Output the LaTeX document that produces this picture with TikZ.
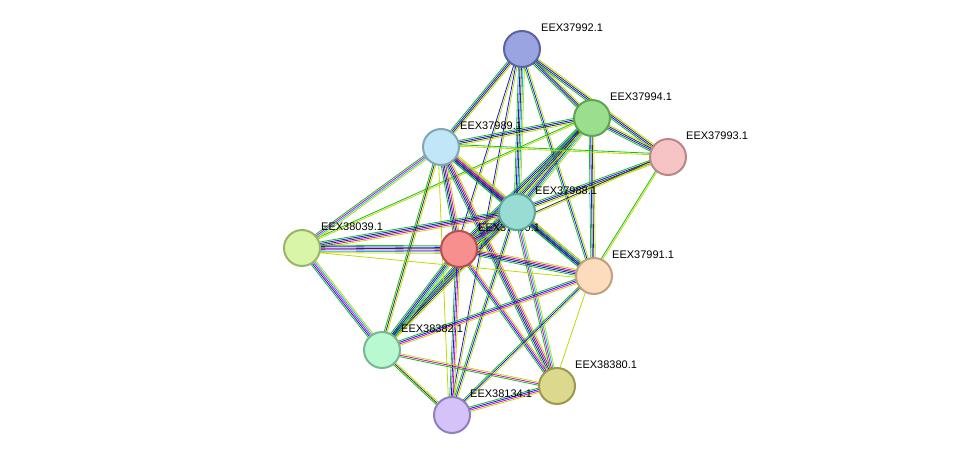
\documentclass[tikz,border=0pt]{standalone}
\usepackage{fontspec}
\setmainfont{Liberation Sans}
\usetikzlibrary{calc}
\pgfdeclarelayer{bg}
\pgfsetlayers{bg,main}

\definecolor{eg}{RGB}{20,190,20}
\definecolor{eb}{RGB}{20,20,240}
\definecolor{ek}{RGB}{50,50,50}
\definecolor{em}{RGB}{220,0,220}
\definecolor{ec}{RGB}{0,190,220}
\definecolor{ey}{RGB}{190,220,0}

\definecolor{f92}{HTML}{9AA4E0}\definecolor{d92}{HTML}{5A64A0}
\definecolor{f94}{HTML}{9ADE8E}\definecolor{d94}{HTML}{5EA552}
\definecolor{f93}{HTML}{F6C4C4}\definecolor{d93}{HTML}{B88888}
\definecolor{f89}{HTML}{C0E6F8}\definecolor{d89}{HTML}{80A6B8}
\definecolor{f39}{HTML}{D8F5A8}\definecolor{d39}{HTML}{98B56A}
\definecolor{f90}{HTML}{F78F8F}\definecolor{d90}{HTML}{B85050}
\definecolor{f88}{HTML}{98DCD4}\definecolor{d88}{HTML}{5EA69C}
\definecolor{f91}{HTML}{FDDCBD}\definecolor{d91}{HTML}{C0A080}
\definecolor{f382}{HTML}{B9F9D2}\definecolor{d382}{HTML}{78B890}
\definecolor{f380}{HTML}{DCD88E}\definecolor{d380}{HTML}{9C984E}
\definecolor{f134}{HTML}{D4C2F8}\definecolor{d134}{HTML}{9080C0}

\tikzset{
  prot/.style = {circle, draw=d#1, fill=f#1, line width=2pt, minimum size=36pt, inner sep=0pt},
  plabel/.style = {anchor=west, font=\fontsize{11}{13}\selectfont, inner sep=0pt}
}

% parallel colored links between two nodes
\newcommand\lnk[3]{%
  \foreach \c [count=\i] in {#3} {
    \pgfmathsetmacro\o{(\i-3)*1.5}
    \draw[\c, line width=0.8pt] ($(#1)!\o pt!90:(#2)$) -- ($(#2)!\o pt!-90:(#1)$);
  }}

\begin{document}
\begin{tikzpicture}[x=1pt, y=-1pt]
  \useasboundingbox (0,0) rectangle (975,461);

  %--------------------
  \node[prot=92] (p92) at (522,49) {};
  \node[prot=94] (p94) at (592,118) {};
  \node[prot=93] (p93) at (668,157) {};
  \node[prot=89] (p89) at (441,147) {};
  \node[prot=39] (p39) at (302,248) {};
  \node[prot=90] (p90) at (459,249) {};
  \node[plabel] at (478,228) {EEX37990.1};
  \node[prot=88] (p88) at (517,212) {};
  \node[prot=91] (p91) at (594,276) {};
  \node[prot=382] (p382) at (382,350) {};
  \node[prot=380] (p380) at (557,386) {};
  \node[prot=134] (p134) at (452,415) {};

  \node[plabel] at (541,28) {EEX37992.1};
  \node[plabel] at (610,97) {EEX37994.1};
  \node[plabel] at (686,136) {EEX37993.1};
  \node[plabel] at (460,126) {EEX37989.1};
  \node[plabel] at (535,191) {EEX37988.1};
  \node[plabel] at (321,227) {EEX38039.1};
  \node[plabel] at (612,255) {EEX37991.1};
  \node[plabel] at (401,329) {EEX38382.1};
  \node[plabel] at (575,365) {EEX38380.1};
  \node[plabel] at (470,394) {EEX38134.1};

  %--------------------
  \begin{pgfonlayer}{bg}
    \lnk{p92}{p94}{eg,eb,ek,ey}
    \lnk{p92}{p93}{eg,eb,ek,ey}
    \lnk{p92}{p89}{eg,eb,ek,ey}
    \lnk{p92}{p88}{eg,eb,ek,ec,ey}
    \lnk{p92}{p90}{eb,ey}
    \lnk{p92}{p91}{eg,eb,ey}
    \lnk{p92}{p134}{eb,ey}
    \lnk{p94}{p93}{eg,eb,ek,ey}
    \lnk{p94}{p89}{eg,eb,ek,ey}
    \lnk{p94}{p88}{eg,eb,ek,ec,ey}
    \lnk{p94}{p90}{eg,eb,ek,ey}
    \lnk{p94}{p91}{eg,eb,ek,ey}
    \lnk{p94}{p39}{eg,ey}
    \lnk{p94}{p382}{eg,eb,ek,ey}
    \lnk{p93}{p89}{eg,ey}
    \lnk{p93}{p88}{eg,eb,ek,ey}
    \lnk{p93}{p90}{ek,ey}
    \lnk{p93}{p91}{eg,ey}
    \lnk{p89}{p88}{eg,eb,ek,em,ec,ey}
    \lnk{p89}{p90}{eg,eb,ek,em,ey}
    \lnk{p89}{p39}{eg,em,ec,ey}
    \lnk{p89}{p382}{eg,ek,ey}
    \lnk{p89}{p380}{eg,eb,ek,em,ey}
    \lnk{p89}{p134}{ey}
    \lnk{p89}{p91}{eg,eb,ek,em,ey}
    \lnk{p88}{p90}{eg,eb,ek,em,ec,ey}
    \lnk{p88}{p39}{eg,eb,ek,em,ey}
    \lnk{p88}{p91}{eg,eb,ek,ec,ey}
    \lnk{p88}{p382}{eg,eb,ek,ey}
    \lnk{p88}{p380}{eg,em,ec,ey}
    \lnk{p88}{p134}{eg,eb,ey}
    \lnk{p90}{p39}{eg,eb,ek,em,ec,ey}
    \lnk{p90}{p91}{eg,eb,ek,em,ey}
    \lnk{p90}{p382}{eg,eb,ek,ec,ey}
    \lnk{p90}{p380}{eg,eb,em,ey}
    \lnk{p90}{p134}{eg,eb,em,ey}
    \lnk{p39}{p382}{eg,eb,em,ec,ey}
    \lnk{p39}{p91}{ey}
    \lnk{p91}{p382}{eg,eb,em,ey}
    \lnk{p91}{p134}{eg,eb,ey}
    \lnk{p91}{p380}{ey}
    \lnk{p382}{p380}{eg,em,ey}
    \lnk{p382}{p134}{eg,ek,ey}
    \lnk{p380}{p134}{eg,eb,em,ey}
  \end{pgfonlayer}
\end{tikzpicture}
\end{document}
